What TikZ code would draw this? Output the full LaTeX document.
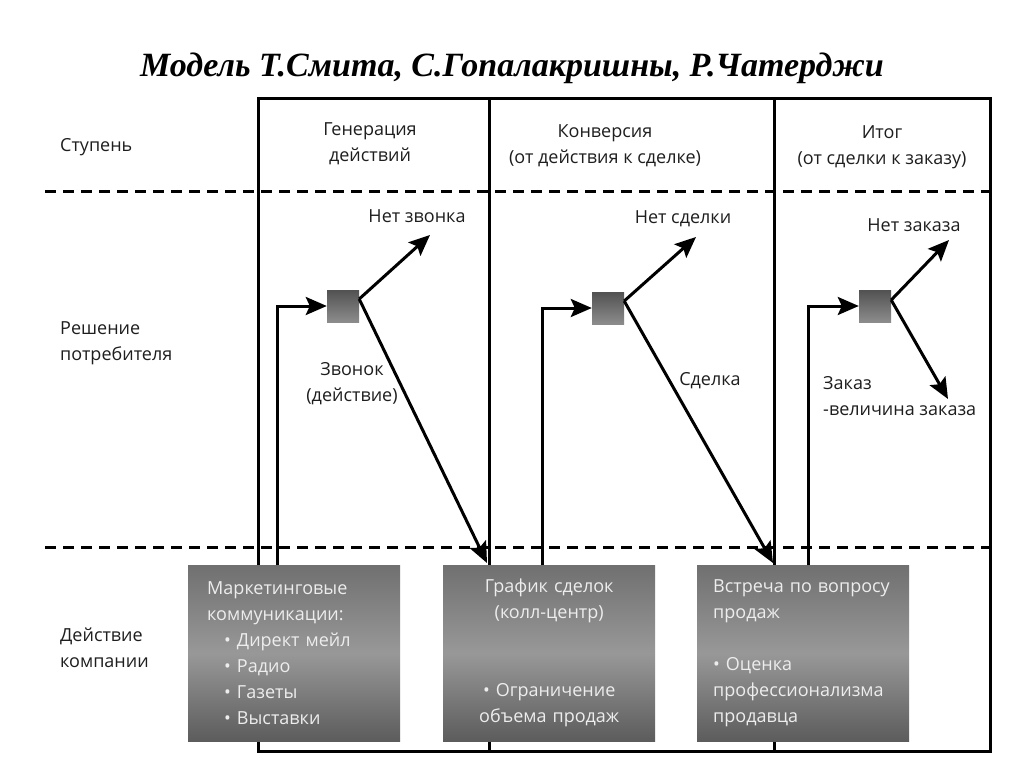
\documentclass[tikz,border=0pt]{standalone}
\usepackage{fontspec}
\setmainfont{Open Sans}
\newfontfamily\titlefont{Liberation Serif}
\usetikzlibrary{arrows.meta,calc}
\definecolor{boxtop}{RGB}{112,112,112}
\definecolor{boxmid}{RGB}{152,152,152}
\definecolor{boxbot}{RGB}{92,92,92}
\definecolor{txt}{RGB}{30,30,30}
\begin{document}
\begin{tikzpicture}[x=1pt,y=-1pt,
  lbl/.style={font=\fontsize{18}{26}\selectfont, text=txt, inner sep=0pt},
  arr/.style={line width=3pt, -{Stealth[length=21pt,width=18pt,inset=4pt]}},
  framest/.style={line width=3pt},
  dashline/.style={line width=3pt, dash pattern=on 11pt off 7pt},
  boxst/.style={draw=none, top color=boxtop, bottom color=boxbot, middle color=boxmid,
    minimum width=212pt, minimum height=176pt, text width=180pt, anchor=north west,
    inner sep=0pt, font=\fontsize{18}{26}\selectfont, text=white!93!black},
  sq/.style={minimum size=32pt, inner sep=0pt, top color=black!68, bottom color=black!45}
]
\useasboundingbox[fill=white] (0,0) rectangle (1024,767);

\node[inner sep=0pt] (title) at (512,68) {\titlefont\bfseries\itshape\fontsize{34}{36}\selectfont Модель Т.Смита, С.Гопалакришны, Р.Чатерджи};

% frame and dividers
\draw[framest] (258,99) rectangle (990,751);
\draw[framest] (489,99) -- (489,751);
\draw[framest] (774,99) -- (774,751);
\draw[dashline] (45,192) -- (990,192);
\draw[dashline] (45,547) -- (990,547);

% row labels
\node[lbl, anchor=west] (r1) at (60,147) {Ступень};
\node[lbl, anchor=west, align=left] (r2) at (60,343) {Решение\\потребителя};
\node[lbl, anchor=west, align=left] (r3) at (60,648) {Действие\\компании};

% column headers
\node[lbl, align=center] (c1) at (370,144) {Генерация\\действий};
\node[lbl, align=center] (c2) at (605,146) {Конверсия\\(от действия к сделке)};
\node[lbl, align=center] (c3) at (882,147) {Итог\\(от сделки к заказу)};

% boxes
\node[boxst, align=left, text width=174pt] (b1) at (188,565) {Маркетинговые\\коммуникации:\\\hspace*{17pt}• Директ мейл\\\hspace*{17pt}• Радио\\\hspace*{17pt}• Газеты\\\hspace*{17pt}• Выставки};
\node[boxst, align=center] (b2) at (443,565) {График сделок\\(колл-центр)\\[52pt]• Ограничение\\объема продаж};
\node[boxst, align=left] (b3) at (697,565) {Встреча по вопросу\\продаж\\[26pt]• Оценка\\профессионализма\\продавца};

% decision squares
\node[sq] (s1) at (343,306) {};
\node[sq] (s2) at (608,308) {};
\node[sq] (s3) at (875,306) {};

% connector ends
\coordinate (f1) at (277,565);
\coordinate (f2) at (542,565);
\coordinate (f3) at (808,565);
\coordinate (u1) at (430,235);
\coordinate (u2) at (696,237);
\coordinate (u3) at (949,240);
\coordinate (d1) at (487,563);
\coordinate (d2) at (773,563);
\coordinate (d3) at (948,399);

\draw[arr] (f1) |- (s1.west);
\draw[arr] (f2) |- (s2.west);
\draw[arr] (f3) |- (s3.west);
\draw[arr] ($(s1.east)+(0,-7)$) -- (u1);
\draw[arr] ($(s2.east)+(0,-7)$) -- (u2);
\draw[arr] ($(s3.east)+(0,-6)$) -- (u3);
\draw[arr] ($(s1.east)+(0,-7)$) -- (d1);
\draw[arr] ($(s2.east)+(0,-7)$) -- (d2);
\draw[arr] ($(s3.east)+(0,-6)$) -- (d3);

% outcome labels
\node[lbl] (n1) at (417,216) {Нет звонка};
\node[lbl] (n2) at (683,219) {Нет сделки};
\node[lbl] (n3) at (914,225) {Нет заказа};
\node[lbl, align=center] (y1) at (352,384) {Звонок\\(действие)};
\node[lbl] (y2) at (710,381) {Сделка};
\node[lbl, align=left, anchor=west] (y3) at (823,396) {Заказ\\-величина заказа};
\end{tikzpicture}
\end{document}
